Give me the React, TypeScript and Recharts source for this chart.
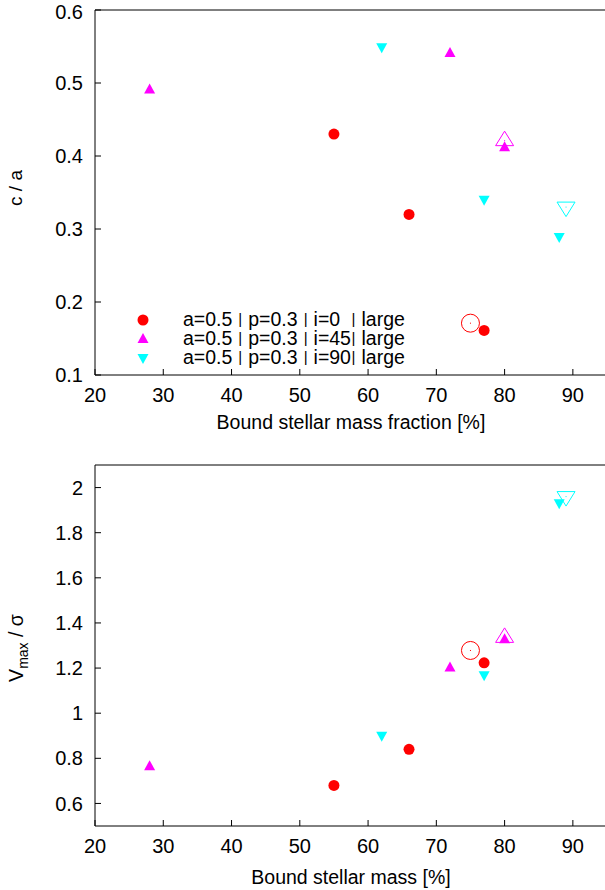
import { ScatterChart, Scatter, XAxis, YAxis } from "recharts";

// c / a  vs bound stellar mass fraction
const topI0 = [
  { x: 55, y: 0.43 },
  { x: 66, y: 0.32 },
  { x: 77, y: 0.161 },
];
const topI45 = [
  { x: 28, y: 0.491 },
  { x: 72, y: 0.541 },
  { x: 80, y: 0.412 },
];
const topI90 = [
  { x: 62, y: 0.549 },
  { x: 77, y: 0.34 },
  { x: 88, y: 0.289 },
];
const topOpenI0 = [{ x: 75, y: 0.171 }];
const topOpenI45 = [{ x: 80, y: 0.421 }];
const topOpenI90 = [{ x: 89, y: 0.33 }];

// Vmax / sigma vs bound stellar mass
const botI0 = [
  { x: 55, y: 0.68 },
  { x: 66, y: 0.84 },
  { x: 77, y: 1.223 },
];
const botI45 = [
  { x: 28, y: 0.765 },
  { x: 72, y: 1.203 },
  { x: 80, y: 1.328 },
];
const botI90 = [
  { x: 62, y: 0.9 },
  { x: 77, y: 1.168 },
  { x: 88, y: 1.93 },
];
const botOpenI0 = [{ x: 75, y: 1.278 }];
const botOpenI45 = [{ x: 80, y: 1.336 }];
const botOpenI90 = [{ x: 89, y: 1.96 }];

const xTicks = [20, 30, 40, 50, 60, 70, 80, 90];
const topYTicks = [0.1, 0.2, 0.3, 0.4, 0.5, 0.6];
const botYTicks = [0.6, 0.8, 1, 1.2, 1.4, 1.6, 1.8, 2];

const legendLabels = [
  "a=0.5 | p=0.3 | i=0  | large",
  "a=0.5 | p=0.3 | i=45| large",
  "a=0.5 | p=0.3 | i=90| large",
];

const RED = "#ff0000";
const MAG = "#ff00ff";
const CYAN = "#00ffff";
const FONT = "'Liberation Sans', Arial, sans-serif";

const dot = (p: any) => <circle cx={p.cx} cy={p.cy} r={5.5} fill={RED} />;
const up = (p: any) => (
  <path d={`M${p.cx},${p.cy - 6}L${p.cx + 5.5},${p.cy + 4}L${p.cx - 5.5},${p.cy + 4}Z`} fill={MAG} />
);
const down = (p: any) => (
  <path d={`M${p.cx},${p.cy + 6}L${p.cx + 5.5},${p.cy - 4}L${p.cx - 5.5},${p.cy - 4}Z`} fill={CYAN} />
);
const openDot = (p: any) => (
  <g>
    <circle cx={p.cx} cy={p.cy} r={9} fill="none" stroke={RED} strokeWidth={1} />
    <rect x={p.cx - 0.5} y={p.cy - 0.5} width={1} height={1} fill={RED} />
  </g>
);
const openUp = (p: any) => (
  <g>
    <path d={`M${p.cx},${p.cy - 9.5}L${p.cx + 9},${p.cy + 5}L${p.cx - 9},${p.cy + 5}Z`} fill="none" stroke={MAG} />
    <rect x={p.cx - 0.5} y={p.cy - 0.5} width={1} height={1} fill={MAG} />
  </g>
);
const openDown = (p: any) => (
  <g>
    <path d={`M${p.cx},${p.cy + 9.5}L${p.cx + 9},${p.cy - 5}L${p.cx - 9},${p.cy - 5}Z`} fill="none" stroke={CYAN} />
    <rect x={p.cx - 0.5} y={p.cy - 0.5} width={1} height={1} fill={CYAN} />
  </g>
);

const tickStyle = { fill: "#000", fontSize: 20, fontFamily: FONT };

// the bar glyph in the reference is short, about cap height
const withShortBars = (t: string) =>
  t.split("|").map((part, i) => (
    <span key={i}>
      {i > 0 && (
        <span style={{ fontSize: 15, position: "relative", top: -2, margin: "0 0.6px" }}>|</span>
      )}
      {part}
    </span>
  ));

const LegendBox = () => {
  const marks = [
    <circle cx={8} cy={9} r={5.5} fill={RED} />,
    <path d="M8,3L13.5,13L2.5,13Z" fill={MAG} />,
    <path d="M8,15L13.5,5L2.5,5Z" fill={CYAN} />,
  ];
  return (
    <div
      style={{
        position: "absolute",
        left: 135,
        top: 310,
        fontFamily: FONT,
        fontSize: 19.5,
        lineHeight: "19px",
      }}
    >
      {legendLabels.map((t, i) => (
        <div key={t} style={{ display: "flex", alignItems: "center", height: 19 }}>
          <svg width={16} height={18} style={{ marginRight: 32 }}>
            {marks[i]}
          </svg>
          <span style={{ whiteSpace: "pre" }}>{withShortBars(t)}</span>
        </div>
      ))}
    </div>
  );
};

const Panel = ({
  top,
  height,
  axisH,
  titleOffset,
  i0,
  i45,
  i90,
  o0,
  o45,
  o90,
  yDomain,
  yTicks,
  xTitle,
  yTitle,
  legend,
}: any) => (
  <div style={{ position: "absolute", left: 0, top }}>
    <ScatterChart width={614} height={height} margin={{ top: 9, right: 6, left: 0, bottom: 0 }}>
      <XAxis
        xAxisId="b"
        type="number"
        dataKey="x"
        domain={[20, 95]}
        ticks={xTicks}
        allowDataOverflow
        tickSize={-6}
        tickMargin={19}
        tick={tickStyle}
        stroke="#000"
        height={axisH}
        label={(p: any) => {
          const vb = p.viewBox;
          return (
            <text
              x={vb.x + vb.width / 2}
              y={vb.y + vb.height - titleOffset}
              textAnchor="middle"
              fontSize={19.5}
              fontFamily={FONT}
              fill="#000"
            >
              {xTitle}
            </text>
          );
        }}
      />
      <XAxis
        xAxisId="t"
        orientation="top"
        type="number"
        dataKey="x"
        domain={[20, 95]}
        ticks={xTicks}
        allowDataOverflow
        tickSize={-6}
        tick={false}
        stroke="#000"
        height={1}
      />
      <YAxis
        yAxisId="l"
        type="number"
        dataKey="y"
        domain={yDomain}
        ticks={yTicks}
        allowDataOverflow
        tickSize={-6}
        tickMargin={18}
        tick={tickStyle}
        stroke="#000"
        width={95}
      />
      <YAxis
        yAxisId="r"
        orientation="right"
        type="number"
        dataKey="y"
        domain={yDomain}
        ticks={yTicks}
        allowDataOverflow
        tickSize={-6}
        tick={false}
        stroke="#000"
        width={1}
      />
      <Scatter xAxisId="b" yAxisId="l" data={i0} shape={dot} isAnimationActive={false} />
      <Scatter xAxisId="b" yAxisId="l" data={i45} shape={up} isAnimationActive={false} />
      <Scatter xAxisId="b" yAxisId="l" data={i90} shape={down} isAnimationActive={false} />
      <Scatter xAxisId="b" yAxisId="l" data={o0} shape={openDot} isAnimationActive={false} />
      <Scatter xAxisId="b" yAxisId="l" data={o45} shape={openUp} isAnimationActive={false} />
      <Scatter xAxisId="b" yAxisId="l" data={o90} shape={openDown} isAnimationActive={false} />
    </ScatterChart>
    {legend && <LegendBox />}
    {yTitle}
  </div>
);

export default function App() {
  return (
    <div
      style={{
        position: "absolute",
        left: 0,
        top: 0,
        width: 605,
        height: 890,
        overflow: "hidden",
        background: "#fff",
      }}
    >
      <Panel
        top={0}
        height={440}
        axisH={65}
        titleOffset={11}
        i0={topI0}
        i45={topI45}
        i90={topI90}
        o0={topOpenI0}
        o45={topOpenI45}
        o90={topOpenI90}
        yDomain={[0.1, 0.6]}
        yTicks={topYTicks}
        xTitle="Bound stellar mass fraction [%]"
        legend
        yTitle={
          <svg width={30} height={60} style={{ position: "absolute", left: 0, top: 158 }}>
            <text
              transform="translate(22,30) rotate(-90)"
              textAnchor="middle"
              fontSize={19}
              fontFamily={FONT}
            >
              c / a
            </text>
          </svg>
        }
      />
      <Panel
        top={455}
        height={435}
        axisH={64}
        titleOffset={6}
        i0={botI0}
        i45={botI45}
        i90={botI90}
        o0={botOpenI0}
        o45={botOpenI45}
        o90={botOpenI90}
        yDomain={[0.5, 2.1]}
        yTicks={botYTicks}
        xTitle="Bound stellar mass [%]"
        yTitle={
          <svg width={32} height={100} style={{ position: "absolute", left: 0, top: 143 }}>
            <text
              transform="translate(23,50) rotate(-90)"
              textAnchor="middle"
              fontSize={19.5}
              fontFamily={FONT}
            >
              V<tspan fontSize={14} dy={5}>max</tspan>
              <tspan dy={-5}> / σ</tspan>
            </text>
          </svg>
        }
      />
    </div>
  );
}
